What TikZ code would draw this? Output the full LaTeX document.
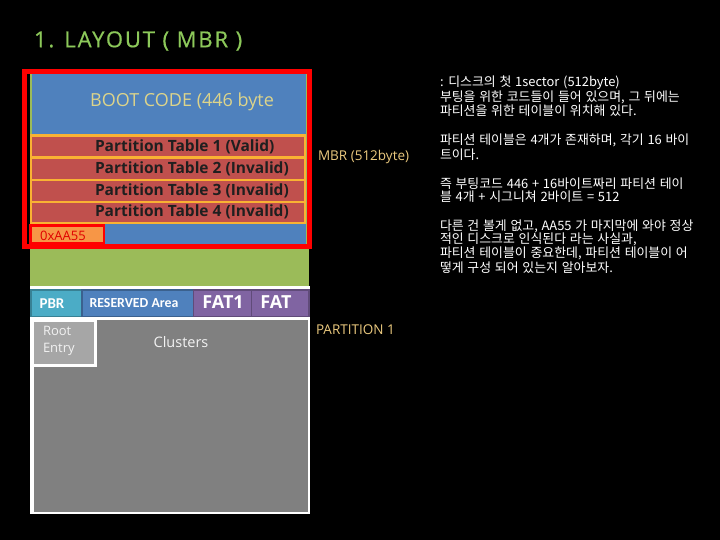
\documentclass[tikz,border=0pt]{standalone}
\usepackage{fontspec}
\setmainfont{Open Sans}
\newfontfamily\kr{Noto Sans CJK KR}[WordSpace=1.3]
\newfontfamily\carl{Carlito}
\definecolor{titlegreen}{HTML}{8CC85A}
\definecolor{bootblue}{HTML}{4F81BD}
\definecolor{ptred}{HTML}{C0504D}
\definecolor{ptorange}{HTML}{F9B233}
\definecolor{framered}{HTML}{FF0000}
\definecolor{sigorange}{HTML}{F79646}
\definecolor{partgreen}{HTML}{9BBB59}
\definecolor{pbrteal}{HTML}{4BACC6}
\definecolor{fatpurple}{HTML}{8064A2}
\definecolor{clgray}{HTML}{808080}
\definecolor{rootgray}{HTML}{A6A6A6}
\definecolor{boottext}{HTML}{DDD48A}
\definecolor{tan}{HTML}{EBC97E}
\begin{document}
\begin{tikzpicture}[x=1pt,y=-1pt,
  txt/.style={inner sep=0pt, outer sep=0pt},
  ptrow/.style={fill=ptred, draw=ptorange, line width=2.5pt},
  rowbox/.style={line width=1.5pt},
  pttext/.style={txt, anchor=west, text=black!88, font=\fontsize{15.5}{17}\selectfont\bfseries},
  note/.style={txt, anchor=west, text=white, font=\kr\fontsize{12.9}{14}\selectfont},
  lbl/.style={txt, text=tan, font=\fontsize{13.5}{15}\selectfont}]
\useasboundingbox (0,0) rectangle (720,540);
\fill[black] (0,0) rectangle (720,540);

% title
\node[txt, anchor=west, text=titlegreen, font=\fontsize{22}{24}\selectfont\addfontfeatures{LetterSpace=8.5,FakeBold=0.6}] (title) at (34,41) {1. LAYOUT ( MBR )};

% partition base
\fill[partgreen] (30,74) rectangle (309,286);
% boot code
\fill[bootblue] (32,74) rectangle (306,135);
\node[txt, text=boottext, font=\fontsize{18}{20}\selectfont] (boot) at (182,102) {BOOT CODE (446 byte};
% partition table rows
\draw[ptrow] (31,135.5) rectangle (305,157.5);
\draw[ptrow] (31,157.5) rectangle (305,180);
\draw[ptrow] (31,180) rectangle (305,202);
\draw[ptrow] (31,202) rectangle (305,223.5);
\node[pttext] (pt1) at (95,147) {Partition Table 1 (Valid)};
\node[pttext] (pt2) at (95,169) {Partition Table 2 (Invalid)};
\node[pttext] (pt3) at (95,190.5) {Partition Table 3 (Invalid)};
\node[pttext] (pt4) at (95,212) {Partition Table 4 (Invalid)};
% signature row
\fill[bootblue] (30,224.5) rectangle (306,244);
\draw[fill=sigorange, draw=framered, line width=2.5pt] (30.5,225.5) rectangle (104,243.5);
\node[txt, text=framered!88!black, font=\fontsize{13}{14}\selectfont] (sig) at (63,236) {0xAA55};
% MBR red frame
\draw[framered, line width=5pt] (24.5,71.5) rectangle (309.5,246.5);

% white base of the lower part
\fill[white] (30,286) rectangle (310,514);
% PBR row
\draw[rowbox, fill=pbrteal, draw=pbrteal!75!black] (30.75,289.75) rectangle (82,316.5);
\draw[rowbox, fill=bootblue, draw=bootblue!75!black] (82,289.75) rectangle (193.5,316.5);
\draw[rowbox, fill=fatpurple, draw=fatpurple!75!black] (193.5,289.75) rectangle (251.5,316.5);
\draw[rowbox, fill=fatpurple, draw=fatpurple!75!black] (251.5,289.75) rectangle (309,316.5);
\node[txt, text=white, font=\carl\fontsize{15}{16}\selectfont\bfseries] (pbr) at (52,303.5) {PBR};
\node[txt, text=white, font=\carl\fontsize{13.8}{15}\selectfont\bfseries] (res) at (134,303) {RESERVED Area};
\node[txt, text=white, font=\fontsize{18}{20}\selectfont\bfseries] (fat1) at (223,302) {FAT1};
\node[txt, text=white, font=\fontsize{18}{20}\selectfont\bfseries] (fat2) at (276,302) {FAT};
% clusters
\fill[clgray] (34,320) rectangle (307.5,511.5);
\fill[white] (30,317) rectangle (97,367);
\fill[rootgray] (34,322) rectangle (94,364);
\node[txt, anchor=west, text=white!95!black, font=\fontsize{13}{17}\selectfont, align=left] (root) at (43,341) {Root\\Entry};
\node[txt, text=white!95!black, font=\fontsize{14.5}{16}\selectfont] (clusters) at (181,342) {Clusters};

% side labels
\node[lbl, anchor=west] (mbr) at (318,157) {MBR (512byte)};
\node[lbl, anchor=west] (part1) at (316,330) {PARTITION 1};

% notes
\node[note] (n1) at (440,83) {: 디스크의 첫 1sector (512byte)};
\node[note] (n2) at (440,97) {부팅을 위한 코드들이 들어 있으며, 그 뒤에는};
\node[note] (n3) at (440,111) {파티션을 위한 테이블이 위치해 있다.};
\node[note] (n4) at (440,140) {파티션 테이블은 4개가 존재하며, 각기 16 바이};
\node[note] (n5) at (440,154.5) {트이다.};
\node[note] (n6) at (440,183.5) {즉 부팅코드 446 + 16바이트짜리 파티션 테이};
\node[note] (n7) at (440,197) {블 4개 + 시그니쳐 2바이트 = 512};
\node[note] (n8) at (440,226) {다른 건 볼게 없고, AA55 가 마지막에 와야 정상};
\node[note] (n9) at (440,239.5) {적인 디스크로 인식된다 라는 사실과,};
\node[note] (n10) at (440,253.5) {파티션 테이블이 중요한데, 파티션 테이블이 어};
\node[note] (n11) at (440,267.5) {떻게 구성 되어 있는지 알아보자.};
\end{tikzpicture}
\end{document}
